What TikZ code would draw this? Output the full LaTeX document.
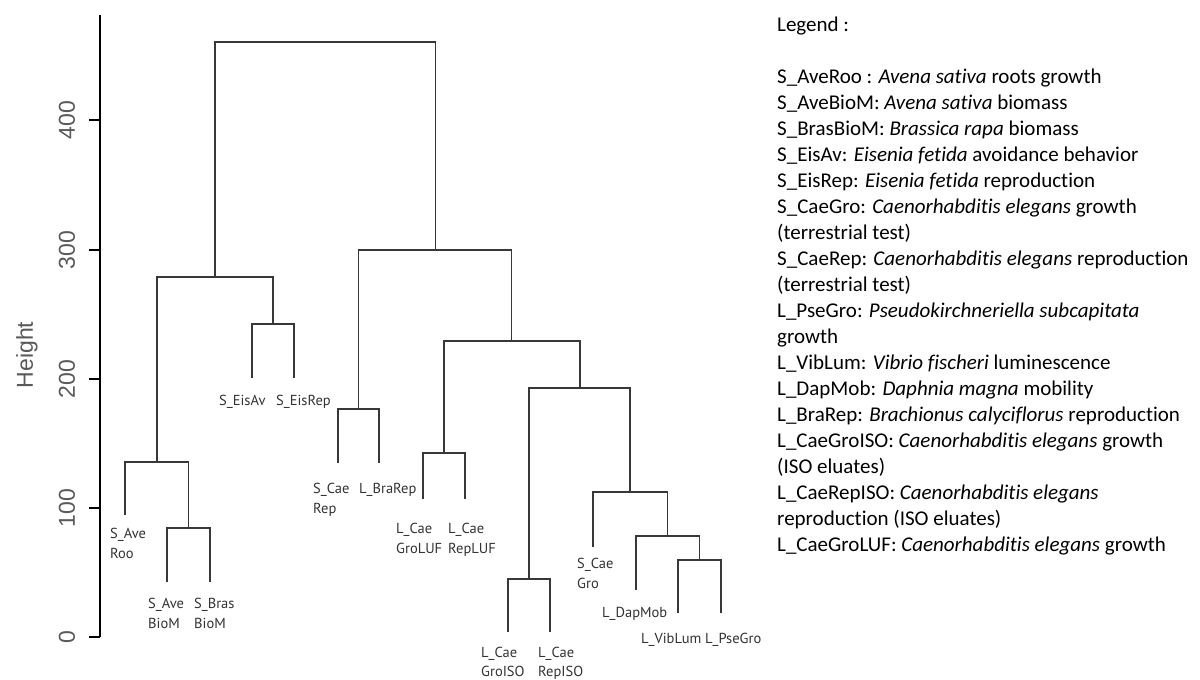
\documentclass[tikz,border=0pt]{standalone}
\usepackage{fontspec}
\setmainfont[Ligatures={NoCommon}]{Carlito}
\newfontfamily\lblfont{PT Sans}
\newfontfamily\axfont{Liberation Sans}
\newcommand{\twolines}[3]{\vtop{\baselineskip=#3pt\hbox{#1}\hbox{#2}}}
\tikzset{
  tree/.style={draw=black!78, line width=1.6pt},
  axisline/.style={draw=black, line width=1.6pt},
  leaf/.style={inner sep=0pt, anchor=base west, font=\lblfont\fontsize{14.5}{17}\selectfont, text=black!80},
  ticklab/.style={inner sep=0pt, rotate=90, font=\axfont\fontsize{23}{26}\selectfont, text=black!65},
  legline/.style={inner sep=0pt, anchor=base west, font=\fontsize{21}{24}\selectfont, text=black}
}
\begin{document}
\begin{tikzpicture}[x=1pt, y=-1pt]
\useasboundingbox (0,0) rectangle (1200,680);
\fill[white] (0,0) rectangle (1200,680);
% axis
\coordinate (axtop) at (100,15);
\coordinate (axbot) at (100,637);
\draw[axisline] (axtop) -- (axbot);
\foreach \v/\yy in {0/637,100/508,200/379,300/250,400/120}{
  \coordinate (tk\v) at (100,\yy);
  \coordinate (tke\v) at (89,\yy);
  \draw[axisline] (tk\v) -- (tke\v);
  \node[ticklab] (tl\v) at (67,\yy) {\v};
}
\node[ticklab] (ylab) at (27,355) {Height};
% leaves (lower ends)
\coordinate (AveRoo) at (125,515);
\coordinate (AveBioM) at (167,582);
\coordinate (BrasBioM) at (210,582);
\coordinate (EisAv) at (252,378);
\coordinate (EisRep) at (294,378);
\coordinate (CaeRep) at (338,463);
\coordinate (BraRep) at (379,463);
\coordinate (CaeGroLUF) at (423,499);
\coordinate (CaeRepLUF) at (465,499);
\coordinate (CaeGroISO) at (508,632);
\coordinate (CaeRepISO) at (550,632);
\coordinate (CaeGro) at (593,547);
\coordinate (DapMob) at (636,590);
\coordinate (VibLum) at (678,613);
\coordinate (PseGro) at (721,613);
% merges
\coordinate (m1) at (188.5,528);
\coordinate (m2) at (157,462);
\coordinate (m3) at (273,324);
\coordinate (m4) at (215,277);
\coordinate (m5) at (358.5,409);
\coordinate (m6) at (444,453);
\coordinate (m7) at (529,579);
\coordinate (m8) at (699.5,560);
\coordinate (m9) at (667.5,536);
\coordinate (m10) at (630,492);
\coordinate (m11) at (580,388);
\coordinate (m12) at (511.5,341);
\coordinate (m13) at (435.5,250);
\coordinate (root) at (325,42);
\draw[tree] (AveBioM) |- (m1) -| (BrasBioM);
\draw[tree] (AveRoo) |- (m2) -| (m1);
\draw[tree] (EisAv) |- (m3) -| (EisRep);
\draw[tree] (m2) |- (m4) -| (m3);
\draw[tree] (CaeRep) |- (m5) -| (BraRep);
\draw[tree] (CaeGroLUF) |- (m6) -| (CaeRepLUF);
\draw[tree] (CaeGroISO) |- (m7) -| (CaeRepISO);
\draw[tree] (VibLum) |- (m8) -| (PseGro);
\draw[tree] (DapMob) |- (m9) -| (m8);
\draw[tree] (CaeGro) |- (m10) -| (m9);
\draw[tree] (m7) |- (m11) -| (m10);
\draw[tree] (m6) |- (m12) -| (m11);
\draw[tree] (m5) |- (m13) -| (m12);
\draw[tree] (m4) |- (root) -| (m13);
% leaf labels
\node[leaf] (lAveRoo) at (110,538) {\twolines{S\_Ave}{Roo}{20}};
\node[leaf] (lAveBioM) at (148,608) {\twolines{S\_Ave}{BioM}{20}};
\node[leaf] (lBrasBioM) at (194,608) {\twolines{S\_Bras}{BioM}{20}};
\node[leaf] (lEisAv) at (219,405) {S\_EisAv};
\node[leaf] (lEisRep) at (276,405) {S\_EisRep};
\node[leaf] (lCaeRep) at (313,493) {\twolines{S\_Cae}{Rep}{20}};
\node[leaf] (lBraRep) at (359,493) {L\_BraRep};
\node[leaf] (lCaeGroLUF) at (396,533) {\twolines{L\_Cae}{GroLUF}{20}};
\node[leaf] (lCaeRepLUF) at (448,533) {\twolines{L\_Cae}{RepLUF}{20}};
\node[leaf] (lCaeGroISO) at (481,657) {\twolines{L\_Cae}{GroISO}{19}};
\node[leaf] (lCaeRepISO) at (538,657) {\twolines{L\_Cae}{RepISO}{19}};
\node[leaf] (lCaeGro) at (577,568) {\twolines{S\_Cae}{Gro}{20}};
\node[leaf] (lDapMob) at (602,617) {L\_DapMob};
\node[leaf] (lVibLum) at (641,643) {L\_VibLum};
\node[leaf] (lPseGro) at (705,643) {L\_PseGro};
% legend
\node[legline] (lg0) at (777,31) {Legend :};
\node[legline] (lg1) at (777,83) {S\_AveRoo : \textit{Avena sativa} roots growth};
\node[legline] (lg2) at (777,109) {S\_AveBioM: \textit{Avena sativa} biomass};
\node[legline] (lg3) at (777,135) {S\_BrasBioM: \textit{Brassica rapa} biomass};
\node[legline] (lg4) at (777,161) {S\_EisAv: \textit{Eisenia fetida} avoidance behavior};
\node[legline] (lg5) at (777,187) {S\_EisRep: \textit{Eisenia fetida} reproduction};
\node[legline] (lg6) at (777,213) {S\_CaeGro: \textit{Caenorhabditis elegans} growth};
\node[legline] (lg7) at (777,239) {(terrestrial test)};
\node[legline] (lg8) at (777,265) {S\_CaeRep: \textit{Caenorhabditis elegans} reproduction};
\node[legline] (lg9) at (777,291) {(terrestrial test)};
\node[legline] (lg10) at (777,317) {L\_PseGro: \textit{Pseudokirchneriella subcapitata}};
\node[legline] (lg11) at (777,343) {growth};
\node[legline] (lg12) at (777,369) {L\_VibLum: \textit{Vibrio fischeri} luminescence};
\node[legline] (lg13) at (777,395) {L\_DapMob: \textit{Daphnia magna} mobility};
\node[legline] (lg14) at (777,421) {L\_BraRep: \textit{Brachionus calyciflorus} reproduction};
\node[legline] (lg15) at (777,447) {L\_CaeGroISO: \textit{Caenorhabditis elegans} growth};
\node[legline] (lg16) at (777,473) {(ISO eluates)};
\node[legline] (lg17) at (777,499) {L\_CaeRepISO: \textit{Caenorhabditis elegans}};
\node[legline] (lg18) at (777,525) {reproduction (ISO eluates)};
\node[legline] (lg19) at (777,551) {L\_CaeGroLUF: \textit{Caenorhabditis elegans} growth};
\end{tikzpicture}
\end{document}
